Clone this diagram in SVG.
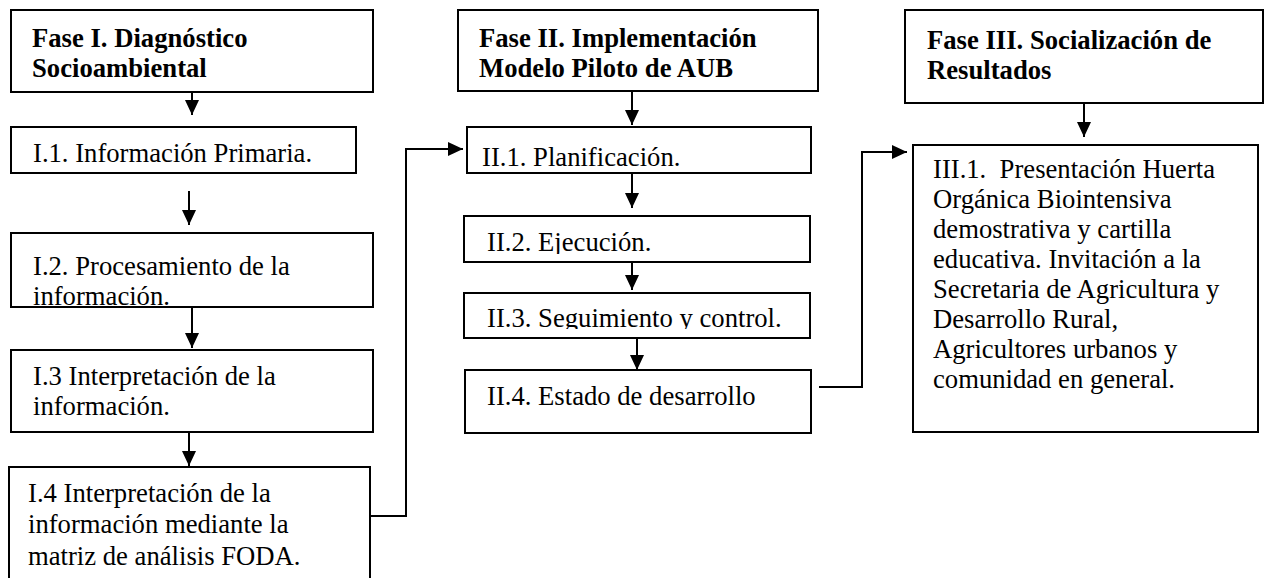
<svg xmlns="http://www.w3.org/2000/svg" width="1266" height="578" viewBox="0 0 1266 578">
<style>
.box{fill:#fff;stroke:#000;stroke-width:2}
.t{font-family:"Liberation Serif","Times New Roman",serif;font-size:26.67px;fill:#000}
.b{font-weight:bold}
.c{fill:none;stroke:#000;stroke-width:2}
</style>
<defs>
<marker id="ah" markerUnits="userSpaceOnUse" markerWidth="16" markerHeight="14" refX="15" refY="7" orient="auto">
<path d="M0,0 L15,7 L0,14 z" fill="#000"/>
</marker>
<clipPath id="cI2"><rect x="11" y="233" width="362" height="73"/></clipPath>
<clipPath id="cII2"><rect x="464" y="216" width="346" height="38"/></clipPath>
<clipPath id="cII3"><rect x="464" y="293" width="346" height="36"/></clipPath>
</defs>
<rect width="1266" height="578" fill="#fff"/>

<g id="faseI">
<rect class="box" x="11" y="10" width="362" height="82"/>
<text class="t b" x="32" y="47">Fase I. Diagnóstico</text>
<text class="t b" x="32" y="77">Socioambiental</text>
</g>
<g id="I1">
<rect class="box" x="11" y="127" width="345" height="46"/>
<text class="t" x="33" y="162">I.1. Información Primaria.</text>
</g>
<g id="I2">
<rect class="box" x="11" y="233" width="362" height="74"/>
<g clip-path="url(#cI2)">
<text class="t" x="33" y="275">I.2. Procesamiento de la</text>
<text class="t" x="33" y="305">información.</text>
</g>
</g>
<g id="I3">
<rect class="box" x="11" y="350" width="362" height="82"/>
<text class="t" x="33" y="385">I.3 Interpretación de la</text>
<text class="t" x="33" y="415">información.</text>
</g>
<g id="I4">
<rect class="box" x="9" y="467" width="361" height="130"/>
<text class="t" x="28" y="502">I.4 Interpretación de la</text>
<text class="t" x="28" y="533">información mediante la</text>
<text class="t" x="28" y="565">matriz de análisis FODA.</text>
</g>

<g id="faseII">
<rect class="box" x="458" y="10" width="360" height="81"/>
<text class="t b" x="479" y="47">Fase II. Implementación</text>
<text class="t b" x="479" y="77">Modelo Piloto de AUB</text>
</g>
<g id="II1">
<rect class="box" x="467" y="127" width="344" height="46"/>
<text class="t" x="482" y="166">II.1. Planificación.</text>
</g>
<g id="II2">
<rect class="box" x="464" y="216" width="346" height="46"/>
<g clip-path="url(#cII2)">
<text class="t" x="487" y="251">II.2. Ejecución.</text>
</g>
</g>
<g id="II3">
<rect class="box" x="464" y="293" width="346" height="45"/>
<g clip-path="url(#cII3)">
<text class="t" x="487" y="327">II.3. Seguimiento y control.</text>
</g>
</g>
<g id="II4">
<rect class="box" x="465" y="370" width="346" height="63"/>
<text class="t" x="487" y="405">II.4. Estado de desarrollo</text>
</g>

<g id="faseIII">
<rect class="box" x="905" y="10" width="358" height="93"/>
<text class="t b" x="927" y="49">Fase III. Socialización de</text>
<text class="t b" x="927" y="79">Resultados</text>
</g>
<g id="III1">
<rect class="box" x="913" y="145" width="345" height="287"/>
<text class="t" x="933" y="178" xml:space="preserve" style="white-space:pre">III.1.  Presentación Huerta</text>
<text class="t" x="933" y="208">Orgánica Biointensiva</text>
<text class="t" x="933" y="238">demostrativa y cartilla</text>
<text class="t" x="933" y="268">educativa. Invitación a la</text>
<text class="t" x="933" y="298">Secretaria de Agricultura y</text>
<text class="t" x="933" y="328">Desarrollo Rural,</text>
<text class="t" x="933" y="358">Agricultores urbanos y</text>
<text class="t" x="933" y="388">comunidad en general.</text>
</g>

<g id="connectors">
<path class="c" d="M192,92 V115" marker-end="url(#ah)"/>
<path class="c" d="M189,191 V225" marker-end="url(#ah)"/>
<path class="c" d="M192,307 V348" marker-end="url(#ah)"/>
<path class="c" d="M189,432 V466" marker-end="url(#ah)"/>
<path class="c" d="M370,516 H406 V149 H463" marker-end="url(#ah)"/>
<path class="c" d="M632,91 V125" marker-end="url(#ah)"/>
<path class="c" d="M632,173 V208" marker-end="url(#ah)"/>
<path class="c" d="M632,262 V290" marker-end="url(#ah)"/>
<path class="c" d="M637,338 V370" marker-end="url(#ah)"/>
<path class="c" d="M819,387 H862 V152 H907" marker-end="url(#ah)"/>
<path class="c" d="M1084,103 V137" marker-end="url(#ah)"/>
</g>
</svg>
